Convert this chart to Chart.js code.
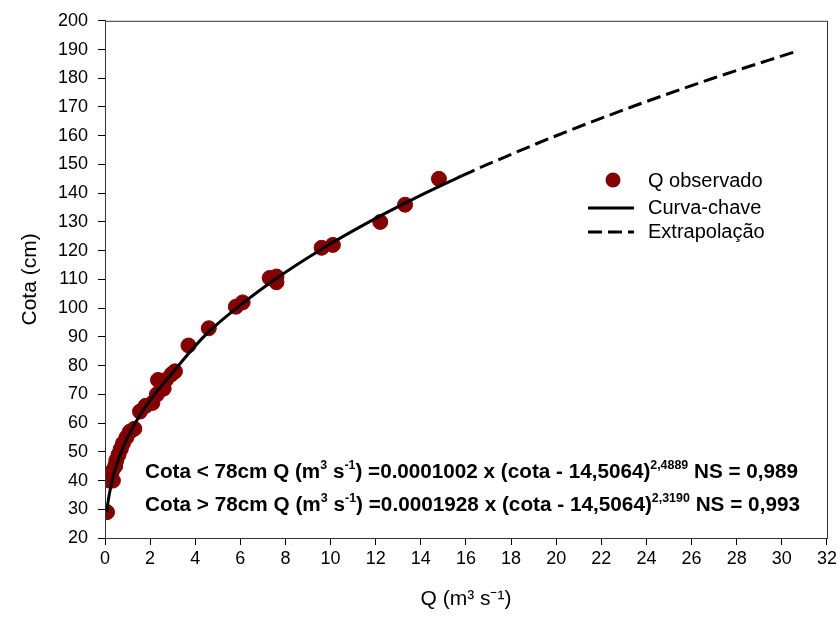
<!DOCTYPE html>
<html>
<head>
<meta charset="utf-8">
<script src="https://cdn.jsdelivr.net/npm/chart.js@4.4.1/dist/chart.umd.min.js"></script>
<style>
  body { margin: 0; background: #fff; }
</style>
</head>
<body>
<canvas id="rating" width="840" height="626"></canvas>
<script>
// observed discharge (Q, m3/s) and stage (cota, cm)
var qObs    = [0.09, 0.2, 0.35, 0.3, 0.45, 0.5, 0.6, 0.7, 0.8, 0.95, 1.1, 1.3, 1.55, 1.8, 2.1, 2.3, 2.35, 2.6, 2.7, 2.95, 3.1, 3.7, 4.6, 5.8, 6.1, 7.3, 7.6, 7.6, 9.6, 10.1, 12.2, 13.3, 14.8];
var cotaObs = [29, 40, 40, 43, 45, 47, 49, 51, 53, 55, 57, 58, 64, 66, 67, 70, 75, 72, 75, 77, 78, 87, 93, 100.5, 102, 110.5, 111, 109, 121, 122, 130, 136, 145];

// rating curve (curva-chave)
var qCurve    = [0.078, 0.092, 0.124, 0.184, 0.317, 0.496, 0.723, 1.004, 1.341, 1.739, 2.199, 2.726, 4.37, 5.83, 7.53, 9.49, 11.71, 14.19, 15.81];
var cotaCurve = [29, 30, 32, 35, 40, 45, 50, 55, 60, 65, 70, 75, 90, 100, 110, 120, 130, 140, 146];

// extrapolation (dashed)
var qExtrap    = [15.81, 16.95, 20.0, 23.33, 26.95, 30.7];
var cotaExtrap = [146, 150, 160, 170, 180, 189.5];

var xMin = 0, xMax = 32, xStep = 2;
var yMin = 20, yMax = 200, yStep = 10;

var seriesNames = ['Q observado', 'Curva-chave', 'Extrapolação'];
var eqLines = [
  [['Cota < 78cm Q (m', 0], ['3', 1], [' s', 0], ['-1', 1], [') =0.0001002 x (cota - 14,5064)', 0], ['2,4889', 1], [' NS = 0,989', 0]],
  [['Cota > 78cm Q (m', 0], ['3', 1], [' s', 0], ['-1', 1], [') =0.0001928 x (cota - 14,5064)', 0], ['2,3190', 1], [' NS = 0,993', 0]]
];

function toPoints(xs, ys) {
  return xs.map(function(x, i) { return { x: x, y: ys[i] }; });
}

var FONT = '"Liberation Sans", Arial, sans-serif';
var dotColor = '#850000';

function drawRich(ctx, parts, x, y, targetW) {
  var base = 'bold 20px ' + FONT, small = 'bold 12px ' + FONT;
  var w = 0;
  parts.forEach(function(p) { ctx.font = p[1] ? small : base; w += ctx.measureText(p[0]).width; });
  ctx.save();
  ctx.translate(x, y);
  ctx.scale(targetW / w, 1);
  ctx.textAlign = 'left';
  ctx.textBaseline = 'alphabetic';
  ctx.fillStyle = '#000';
  var cx = 0;
  parts.forEach(function(p) {
    ctx.font = p[1] ? small : base;
    ctx.fillText(p[0], cx, p[1] ? -9 : 0);
    cx += ctx.measureText(p[0]).width;
  });
  ctx.restore();
}

var extras = {
  id: 'extras',
  afterDraw: function(chart) {
    var ctx = chart.ctx, a = chart.chartArea;
    ctx.save();
    // frame
    ctx.strokeStyle = '#333';
    ctx.lineWidth = 1;
    ctx.strokeRect(a.left + 0.5, a.top + 0.5, a.right - a.left, a.bottom - a.top);

    // legend
    ctx.font = '20px ' + FONT;
    ctx.textBaseline = 'middle';
    ctx.beginPath();
    ctx.arc(613, 180, 7.5, 0, Math.PI * 2);
    ctx.fillStyle = dotColor;
    ctx.fill();
    ctx.fillStyle = '#000';
    ctx.fillText(seriesNames[0], 648, 181);

    ctx.strokeStyle = '#000';
    ctx.lineWidth = 3;
    ctx.beginPath(); ctx.moveTo(588, 208); ctx.lineTo(634, 208); ctx.stroke();
    ctx.fillText(seriesNames[1], 648, 208);

    ctx.setLineDash([14, 6]);
    ctx.beginPath(); ctx.moveTo(588, 232); ctx.lineTo(634, 232); ctx.stroke();
    ctx.setLineDash([]);
    ctx.fillText(seriesNames[2], 648, 232);
    ctx.restore();

    drawRich(ctx, eqLines[0], 145, 478, 653);
    drawRich(ctx, eqLines[1], 145, 511, 655);
  }
};

new Chart(document.getElementById('rating').getContext('2d'), {
  type: 'scatter',
  data: {
    datasets: [{
      label: seriesNames[0],
      data: toPoints(qObs, cotaObs),
      backgroundColor: dotColor,
      borderColor: dotColor,
      pointRadius: 7.5,
      order: 2
    }, {
      label: seriesNames[1],
      data: toPoints(qCurve, cotaCurve),
      showLine: true,
      borderColor: '#000',
      borderWidth: 3,
      pointRadius: 0,
      cubicInterpolationMode: 'monotone',
      order: 1
    }, {
      label: seriesNames[2],
      data: toPoints(qExtrap, cotaExtrap),
      showLine: true,
      borderColor: '#000',
      borderWidth: 3,
      borderDash: [14, 6],
      pointRadius: 0,
      cubicInterpolationMode: 'monotone',
      order: 1
    }]
  },
  options: {
    responsive: false,
    animation: false,
    layout: { padding: { top: 19, right: 12, left: 0, bottom: 0 } },
    plugins: {
      legend: { display: false },
      tooltip: { enabled: false }
    },
    scales: {
      x: {
        type: 'linear',
        min: xMin, max: xMax,
        ticks: { stepSize: xStep, color: '#000', padding: 3, font: { family: FONT, size: 18 } },
        grid: { drawOnChartArea: false, drawTicks: true, tickLength: 7, color: '#000' },
        border: { color: '#333' },
        title: { display: true, text: 'Q (m³ s⁻¹)', color: '#000', font: { family: FONT, size: 21 }, padding: { top: 0, bottom: 14 } },
        afterFit: function(s) { s.height = 88; }
      },
      y: {
        type: 'linear',
        min: yMin, max: yMax,
        ticks: { stepSize: yStep, color: '#000', padding: 10, font: { family: FONT, size: 18 } },
        grid: { drawOnChartArea: false, drawTicks: true, tickLength: 7, color: '#000' },
        border: { color: '#333' },
        title: { display: true, text: 'Cota (cm)', color: '#000', font: { family: FONT, size: 21 }, padding: { top: 18, bottom: 0 } },
        afterFit: function(s) { s.width = 105; }
      }
    }
  },
  plugins: [extras]
});
</script>
</body>
</html>
